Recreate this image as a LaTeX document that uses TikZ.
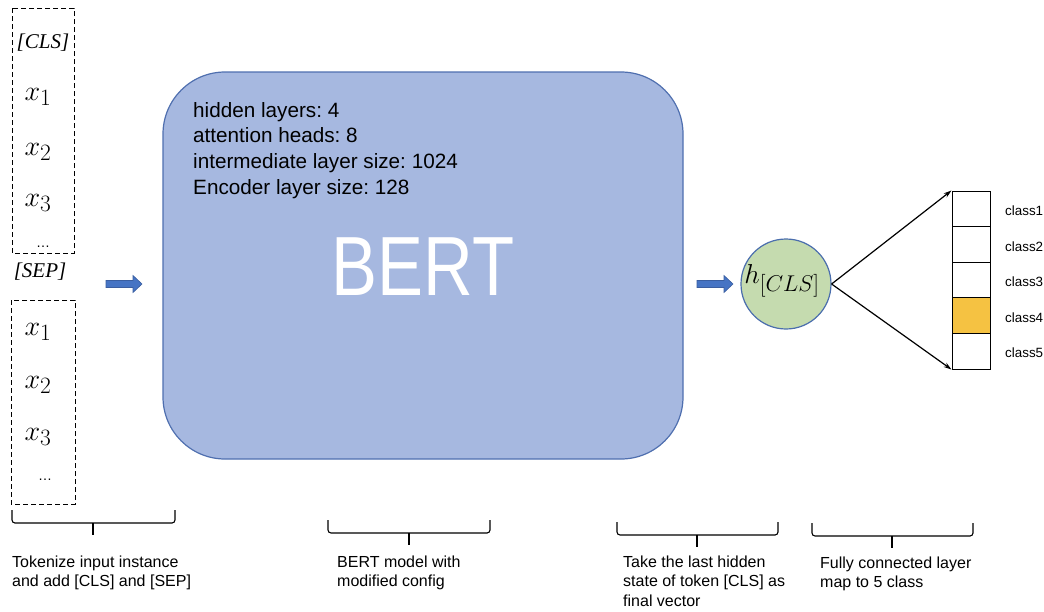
\documentclass[tikz,border=0pt]{standalone}
\usepackage{graphicx}
\usepackage{fontspec}
\setmainfont{Liberation Sans}
\newfontfamily\tokfont{Liberation Serif}
\usetikzlibrary{arrows.meta}
\frenchspacing
\definecolor{bertfill}{HTML}{A6B8E0}
\definecolor{bertline}{HTML}{4F6FAF}
\definecolor{hfill}{HTML}{C5DBAF}
\definecolor{hline}{HTML}{4B6EAD}
\definecolor{arrowfill}{HTML}{4674C4}
\definecolor{arrowline}{HTML}{3A5EA0}
\definecolor{gold}{HTML}{F5C242}
\newcommand{\tokmath}[1]{\scalebox{1.13}{$#1$}}
\tikzset{
  dashbox/.style={draw, line width=1pt, dash pattern=on 5pt off 3pt},
  tok/.style={inner sep=0pt, font=\fontsize{24.88}{25}\selectfont},
  tokit/.style={inner sep=0pt, font=\tokfont\itshape\fontsize{21}{21}\selectfont},
  blockarrow/.style={fill=arrowfill, draw=arrowline, line width=0.6pt},
  cell/.style={draw, line width=1pt, minimum width=38pt, minimum height=35.6pt, inner sep=0pt},
  classlbl/.style={anchor=west, inner sep=0pt, font=\fontsize{13.4}{13.4}\selectfont},
  caption/.style={anchor=base west, align=left, inner sep=0pt, font=\fontsize{16}{19.5}\selectfont\frenchspacing},
  bracket/.style={line width=1.1pt, rounded corners=3pt},
  fc/.style={line width=1.2pt, -{Stealth[length=8pt,width=5pt]}}
}
\begin{document}
\begin{tikzpicture}[x=1pt, y=-1pt]
\useasboundingbox (0,0) rectangle (1044,611);

% input tokens
\draw[dashbox] (12,8) rectangle (74,253);
\draw[dashbox] (11,300) rectangle (75,504);
\node[tokit] (cls) at (43,43) {[CLS]};
\node[tok] (a1) at (38,97) {\tokmath{x_1}};
\node[tok] (a2) at (38,152) {\tokmath{x_2}};
\node[tok] (a3) at (38,203) {\tokmath{x_3}};
\node[inner sep=0pt, font=\fontsize{14}{14}\selectfont] (adots) at (43,247) {\dots};
\node[tokit] (sep) at (40,272) {[SEP]};
\node[tok] (b1) at (38,332) {\tokmath{x_1}};
\node[tok] (b2) at (38,385) {\tokmath{x_2}};
\node[tok] (b3) at (38,437) {\tokmath{x_3}};
\node[inner sep=0pt, font=\fontsize{14}{14}\selectfont] (bdots) at (45,480) {\dots};

% block arrows
\foreach \x in {106,697}{
  \fill[blockarrow] (\x,280.5) -- (\x+27,280.5) -- (\x+27,275.5) -- (\x+36,284) -- (\x+27,292.5) -- (\x+27,287.5) -- (\x,287.5) -- cycle;
}

% BERT block
\node[draw=bertline, fill=bertfill, line width=1.2pt, rounded corners=62pt,
      minimum width=520pt, minimum height=387pt] (bert) at (423,265.5) {};
\node[anchor=base west, align=left, inner sep=0pt, font=\fontsize{20.7}{25.8}\selectfont\frenchspacing] (cfg) at (193,194.4)
  {hidden layers: 4\\attention heads: 8\\intermediate layer size: 1024\\Encoder layer size: 128};
\node[anchor=base, inner sep=0pt, text=white, font=\fontsize{84}{84}\selectfont, xscale=0.82] (berttxt) at (423,295) {BERT};

% final hidden state
\node[circle, draw=hline, fill=hfill, line width=1.2pt, minimum size=90pt, inner sep=0pt] (h) at (786,284) {};
\node[inner sep=0pt, font=\fontsize{24.88}{25}\selectfont] (htxt) at (782,281) {\scalebox{1.1}{$h_{[CLS]}$}};

% output classes
\foreach \i in {1,...,5}{
  \node[cell] (c\i) at (971,{191+17.8+35.6*(\i-1)}) {};
  \node[classlbl] (l\i) at (1005,{191+17.8+35.6*(\i-1)+2}) {class\i};
}
\node[cell, fill=gold] at (c4) {};
\draw[fc] (h.east) -- (c1.north west);
\draw[fc] (h.east) -- (c5.south west);

% brackets and captions
\draw[bracket] (12,510) -- (12,523) -- (175,523) -- (175,510);
\draw[line width=1.1pt] (93,523) -- (93,535);
\draw[bracket] (328,520) -- (328,533) -- (490,533) -- (490,520);
\draw[line width=1.1pt] (409,533) -- (409,545);
\draw[bracket] (617,522) -- (617,535) -- (778,535) -- (778,522);
\draw[line width=1.1pt] (697,535) -- (697,547);
\draw[bracket] (812,523) -- (812,536) -- (973,536) -- (973,523);
\draw[line width=1.1pt] (892,536) -- (892,548);

\node[caption] (t1) at (12,586.5) {Tokenize input instance\\and add [CLS] and [SEP]};
\node[caption] (t2) at (337,586.5) {BERT model with\\modified config};
\node[caption] (t3) at (623,606) {Take the last hidden\\state of token [CLS] as\\final vector};
\node[caption] (t4) at (820,587.5) {Fully connected layer\\map to 5 class};
\end{tikzpicture}
\end{document}
